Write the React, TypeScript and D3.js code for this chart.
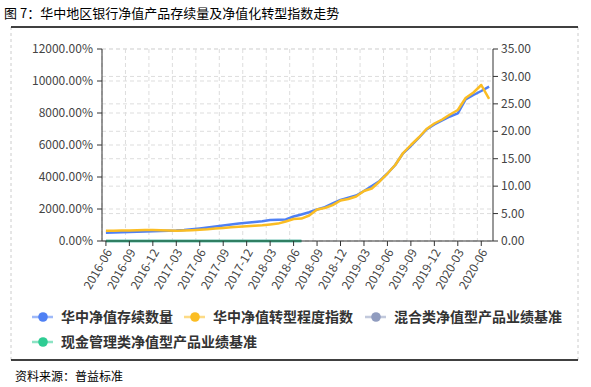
import React from 'react';
import * as d3 from 'd3';

const months = [
  '2016-06','2016-07','2016-08','2016-09','2016-10','2016-11','2016-12',
  '2017-01','2017-02','2017-03','2017-04','2017-05','2017-06','2017-07','2017-08','2017-09','2017-10','2017-11','2017-12',
  '2018-01','2018-02','2018-03','2018-04','2018-05','2018-06','2018-07','2018-08','2018-09','2018-10','2018-11','2018-12',
  '2019-01','2019-02','2019-03','2019-04','2019-05','2019-06','2019-07','2019-08','2019-09','2019-10','2019-11','2019-12',
  '2020-01','2020-02','2020-03','2020-04','2020-05','2020-06','2020-07',
];

// 华中净值存续数量 (left axis, %)
const storageCount = [
  520, 531, 544, 563, 575, 594, 613, 625, 638, 656, 688, 731, 781, 838, 900, 963, 1025, 1094, 1144,
  1188, 1231, 1313, 1331, 1350, 1531, 1656, 1794, 1969, 2113, 2344, 2563, 2700, 2844, 3125, 3438,
  3750, 4219, 4750, 5481, 5938, 6438, 6969, 7281, 7531, 7781, 7981, 8844, 9125, 9375, 9644,
];

// 华中净值转型程度指数 (right axis)
const transformIndex = [
  1.88, 1.88, 1.9, 1.93, 1.97, 2.01, 2.01, 1.95, 1.9, 1.88, 1.91, 1.97, 2.04, 2.13, 2.26, 2.39, 2.5, 2.59, 2.7,
  2.79, 2.88, 3.01, 3.17, 3.55, 4.01, 4.08, 4.65, 5.74, 6.02, 6.53, 7.38, 7.66, 8.11, 9.11, 9.57,
  10.85, 12.3, 13.85, 16.04, 17.5, 18.87, 20.42, 21.42, 22.15, 23.06, 23.88, 26.07, 27.07, 28.44, 25.89,
];

// 混合类净值型产品业绩基准 (left axis, %)
const mixedBenchmark = [
  5.1, 5.0, 5.0, 4.9, 4.9, 4.8, 4.8, 4.9, 5.0, 5.0, 5.1, 5.2, 5.3, 5.4, 5.4, 5.4, 5.3, 5.3, 5.3,
  5.2, 5.2, 5.1, 5.1, 5.0, 5.0, 4.9,
];

// 现金管理类净值型产品业绩基准 (left axis, %)
const cashBenchmark = [
  3.9, 3.8, 3.8, 3.7, 3.7, 3.7, 3.8, 3.9, 4.0, 4.1, 4.2, 4.3, 4.4, 4.5, 4.5, 4.5, 4.4, 4.4, 4.3,
  4.2, 4.2, 4.1, 4.1, 4.0, 3.9, 3.8,
];

const leftTicks = [0, 2000, 4000, 6000, 8000, 10000, 12000];
const rightTicks = [0, 5, 10, 15, 20, 25, 30, 35];

const seriesNames = ['华中净值存续数量', '华中净值转型程度指数', '混合类净值型产品业绩基准', '现金管理类净值型产品业绩基准'];
const seriesColors = ['#4f80f4', '#fbbd23', '#909cbf', '#2ecc93'];

const W = 591;
const H = 387;
const plot = { left: 102, right: 493, top: 49, bottom: 241 };
const FONT = '"Noto Sans CJK SC", "Noto Sans", sans-serif';

export default function App() {
  const x = d3.scaleBand<string>().domain(months).range([plot.left, plot.right]);
  const bw = x.bandwidth();
  const cx = (m: string) => (x(m) as number) + bw / 2;
  const yL = d3.scaleLinear().domain([0, 12000]).range([plot.bottom, plot.top]);
  const yR = d3.scaleLinear().domain([0, 35]).range([plot.bottom, plot.top]);

  const lineL = d3.line<number>().x((_, i) => cx(months[i])).y((d) => yL(d));
  const lineR = d3.line<number>().x((_, i) => cx(months[i])).y((d) => yR(d));

  const labelIdx = months.map((_, i) => i).filter((i) => i % 3 === 0);

  const legendItems = [
    { name: seriesNames[0], color: seriesColors[0], x: 43, y: 317 },
    { name: seriesNames[1], color: seriesColors[1], x: 195, y: 317 },
    { name: seriesNames[2], color: seriesColors[2], x: 376, y: 317 },
    { name: seriesNames[3], color: seriesColors[3], x: 43, y: 342 },
  ];

  return (
    <svg width={W} height={H} style={{ position: 'absolute', left: 0, top: 0, background: '#fff' }} fontFamily={FONT}>
      <rect x={0} y={0} width={W} height={H} fill="#fff" />
      {/* title */}
      <text x={4} y={18} fontSize={13} fill="#000">图 7：华中地区银行净值产品存续量及净值化转型指数走势</text>
      {/* frame */}
      <line x1={11} x2={11} y1={27} y2={360} stroke="#ccc" strokeDasharray="3,3" />
      <line x1={578} x2={578} y1={27} y2={360} stroke="#ccc" strokeDasharray="3,3" />
      <line x1={11} x2={578} y1={27} y2={27} stroke="#000" strokeWidth={1.5} />
      <line x1={11} x2={578} y1={360} y2={360} stroke="#000" strokeWidth={1.5} />

      {/* grid */}
      {leftTicks.map((t) => (
        <line key={'gl' + t} x1={plot.left} x2={plot.right} y1={yL(t)} y2={yL(t)} stroke="#ddd" strokeDasharray="4,3" />
      ))}
      {rightTicks.map((t) => (
        <line key={'gr' + t} x1={plot.left} x2={plot.right} y1={yR(t)} y2={yR(t)} stroke="#ddd" strokeDasharray="4,3" />
      ))}
      {labelIdx.map((i) => (
        <line key={'gv' + i} x1={x(months[i]) as number} x2={x(months[i]) as number} y1={plot.top} y2={plot.bottom} stroke="#ddd" strokeDasharray="4,3" />
      ))}

      {/* series */}
      <path d={lineL(storageCount) || ''} fill="none" stroke={seriesColors[0]} strokeWidth={2.5} strokeLinejoin="round" />
      <path d={lineR(transformIndex) || ''} fill="none" stroke={seriesColors[1]} strokeWidth={2.5} strokeLinejoin="round" />
      <path d={lineL(mixedBenchmark) || ''} fill="none" stroke={seriesColors[2]} strokeWidth={2.5} />
      <path d={lineL(cashBenchmark) || ''} fill="none" stroke={seriesColors[3]} strokeWidth={2.5} />

      {/* axes */}
      <line x1={plot.left} x2={plot.left} y1={plot.top} y2={plot.bottom} stroke="#333" />
      <line x1={plot.right} x2={plot.right} y1={plot.top} y2={plot.bottom} stroke="#333" />
      <line x1={plot.left} x2={plot.right} y1={plot.bottom} y2={plot.bottom} stroke="#333" />
      {leftTicks.map((t) => (
        <g key={'lt' + t}>
          <line x1={plot.left - 5} x2={plot.left} y1={yL(t)} y2={yL(t)} stroke="#333" />
          <text x={plot.left - 9} y={yL(t)} dy="0.35em" textAnchor="end" fontSize={12} fill="#444">
            {t.toFixed(2) + '%'}
          </text>
        </g>
      ))}
      {rightTicks.map((t) => (
        <g key={'rt' + t}>
          <line x1={plot.right} x2={plot.right + 5} y1={yR(t)} y2={yR(t)} stroke="#333" />
          <text x={plot.right + 8} y={yR(t)} dy="0.35em" textAnchor="start" fontSize={12} fill="#444">
            {t.toFixed(2)}
          </text>
        </g>
      ))}
      {labelIdx.map((i) => {
        const px = cx(months[i]);
        return (
          <g key={'xt' + i}>
            <line x1={px} x2={px} y1={plot.bottom} y2={plot.bottom + 5} stroke="#333" />
            <text transform={`translate(${px + 3},${plot.bottom + 9}) rotate(-60)`} textAnchor="end" dy="0.35em" fontSize={12} fill="#444">
              {months[i]}
            </text>
          </g>
        );
      })}

      {/* legend */}
      {legendItems.map((it) => (
        <g key={it.name}>
          <line x1={it.x - 11} x2={it.x + 10} y1={it.y} y2={it.y} stroke={it.color} strokeOpacity={0.55} strokeWidth={2.5} />
          <circle cx={it.x} cy={it.y} r={4.8} fill={it.color} />
          <text x={it.x + 18} y={it.y} dy="0.36em" fontSize={14} fontWeight="bold" fill="#333">{it.name}</text>
        </g>
      ))}

      {/* source */}
      <text x={15} y={377} dy="0.35em" fontSize={12} fill="#000">资料来源：普益标准</text>
    </svg>
  );
}
